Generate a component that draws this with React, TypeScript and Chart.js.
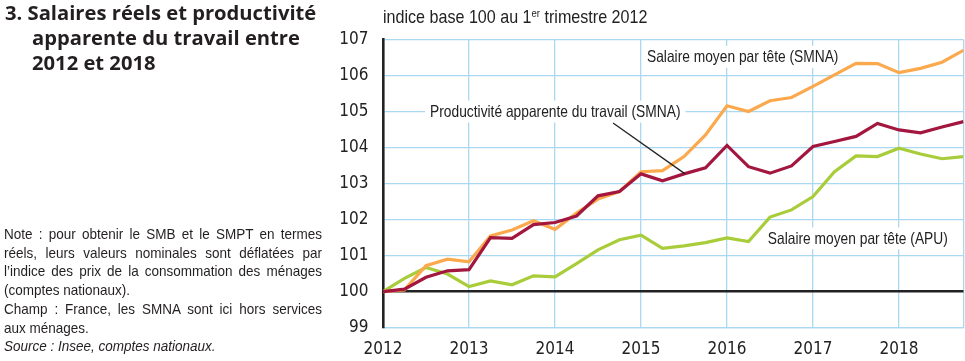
import React, { useEffect, useRef } from "react";
import { Chart, registerables } from "chart.js";

Chart.register(...registerables);

// Quarters from 2012 Q1 to 2018 Q4
const trimestres = [
  "2012T1", "2012T2", "2012T3", "2012T4",
  "2013T1", "2013T2", "2013T3", "2013T4",
  "2014T1", "2014T2", "2014T3", "2014T4",
  "2015T1", "2015T2", "2015T3", "2015T4",
  "2016T1", "2016T2", "2016T3", "2016T4",
  "2017T1", "2017T2", "2017T3", "2017T4",
  "2018T1", "2018T2", "2018T3", "2018T4",
];

const salaireSMNA = [
  100.0, 100.05, 100.72, 100.9, 100.83, 101.55, 101.71, 101.97,
  101.73, 102.18, 102.57, 102.78, 103.33, 103.36, 103.75, 104.35,
  105.16, 105.0, 105.3, 105.39, 105.7, 106.02, 106.34, 106.33,
  106.08, 106.2, 106.37, 106.7,
];

const productivite = [
  100.0, 100.07, 100.4, 100.58, 100.61, 101.5, 101.48, 101.86,
  101.92, 102.1, 102.66, 102.78, 103.27, 103.08, 103.27, 103.44,
  104.06, 103.47, 103.29, 103.49, 104.03, 104.17, 104.31, 104.67,
  104.49, 104.41, 104.57, 104.72,
];

const salaireAPU = [
  100.0, 100.37, 100.67, 100.49, 100.14, 100.3, 100.19, 100.44,
  100.41, 100.78, 101.16, 101.44, 101.57, 101.2, 101.27, 101.36,
  101.49, 101.39, 102.07, 102.27, 102.64, 103.33, 103.77, 103.75,
  103.98, 103.82, 103.69, 103.75,
];

const annees = [2012, 2013, 2014, 2015, 2016, 2017, 2018];
const yTicks = [99, 100, 101, 102, 103, 104, 105, 106, 107];

const CONDENSED = '"DejaVu Sans Condensed", "Liberation Sans", sans-serif';
const SANS = '"Liberation Sans", Arial, sans-serif';
const ORANGE = "#FBA94C";
const BORDEAUX = "#A3173F";
const VERT = "#A9CD3A";
const GRILLE = "#AAD8F0";
const NOIR = "#222222";
const SERRE = 0.835; // horizontal squeeze giving a condensed look to Liberation Sans

// Text labels placed in data units (quarter index, index value)
const etiquettes = [
  { text: "Salaire moyen par tête (SMNA)", x: 12.28, y: 106.52 },
  { text: "Productivité apparente du travail (SMNA)", x: 2.19, y: 105.0 },
  { text: "Salaire moyen par tête (APU)", x: 17.9, y: 101.48 },
];
const traitRenvoi = { x1: 10.7, y1: 104.68, x2: 14.05, y2: 103.27 };

const serie = (vals: number[]) => vals.map((v, i) => ({ x: i, y: v }));

const labelsPlugin = {
  id: "etiquettes",
  beforeDatasetsDraw(chart: any) {
    const { ctx, scales } = chart;
    ctx.save();
    ctx.font = `16.5px ${SANS}`;
    ctx.textBaseline = "middle";
    ctx.textAlign = "left";
    for (const e of etiquettes) {
      const px = scales.x.getPixelForValue(e.x);
      const py = scales.y.getPixelForValue(e.y);
      const w = ctx.measureText(e.text).width * SERRE;
      ctx.fillStyle = "#ffffff";
      ctx.fillRect(px - 5, py - 11, w + 10, 22);
      ctx.save();
      ctx.translate(px, py + 1);
      ctx.scale(SERRE, 1);
      ctx.fillStyle = NOIR;
      ctx.fillText(e.text, 0, 0);
      ctx.restore();
    }
    ctx.restore();
  },
  afterDatasetsDraw(chart: any) {
    const { ctx, scales } = chart;
    ctx.save();
    ctx.strokeStyle = NOIR;
    ctx.lineWidth = 1.3;
    ctx.beginPath();
    ctx.moveTo(scales.x.getPixelForValue(traitRenvoi.x1), scales.y.getPixelForValue(traitRenvoi.y1));
    ctx.lineTo(scales.x.getPixelForValue(traitRenvoi.x2), scales.y.getPixelForValue(traitRenvoi.y2));
    ctx.stroke();
    ctx.restore();
  },
};

function Graphique() {
  const ref = useRef<HTMLCanvasElement | null>(null);
  useEffect(() => {
    if (!ref.current) return;
    const last = trimestres.length - 1;
    const chart = new Chart(ref.current, {
      type: "line",
      data: {
        datasets: [
          { label: "Productivité apparente du travail (SMNA)", data: serie(productivite), borderColor: BORDEAUX, order: 0 },
          { label: "Salaire moyen par tête (SMNA)", data: serie(salaireSMNA), borderColor: ORANGE, order: 1 },
          { label: "Salaire moyen par tête (APU)", data: serie(salaireAPU), borderColor: VERT, order: 2 },
        ].map((d) => ({ ...d, borderWidth: 3.2, pointRadius: 0, tension: 0, fill: false })),
      },
      options: {
        animation: false,
        responsive: false,
        maintainAspectRatio: false,
        events: [],
        layout: { padding: { left: 333, top: 39.5, right: 1.5, bottom: 0 } },
        plugins: { legend: { display: false }, tooltip: { enabled: false } },
        scales: {
          x: {
            type: "linear",
            min: 0,
            max: last,
            afterBuildTicks(scale: any) {
              const t = annees.map((a, k) => ({ value: k * 4 }));
              t.push({ value: last });
              scale.ticks = t;
            },
            afterFit(scale: any) {
              scale.height = 33.3;
              scale.paddingLeft = 0;
              scale.paddingRight = 0;
            },
            ticks: {
              autoSkip: false,
              maxRotation: 0,
              padding: 11.5,
              color: NOIR,
              font: { family: CONDENSED, size: 17 },
              callback: (v: any) => (v % 4 === 0 ? String(annees[v / 4]) : ""),
            },
            grid: { color: GRILLE, lineWidth: 1.3, drawTicks: false },
            border: { color: GRILLE, width: 1.3 },
          },
          y: {
            min: yTicks[0],
            max: yTicks[yTicks.length - 1],
            afterBuildTicks(scale: any) {
              scale.ticks = yTicks.map((v) => ({ value: v }));
            },
            afterFit(scale: any) {
              scale.width = 50;
              scale.paddingTop = 0;
              scale.paddingBottom = 0;
            },
            ticks: {
              padding: 14.5,
              color: NOIR,
              font: { family: CONDENSED, size: 17 },
            },
            grid: {
              drawTicks: false,
              color: (c: any) => (c.tick && c.tick.value === 100 ? NOIR : GRILLE),
              lineWidth: (c: any) => (c.tick && c.tick.value === 100 ? 2.6 : 1.3),
            },
            border: { color: NOIR, width: 2.6 },
          },
        },
      },
      plugins: [labelsPlugin],
    });
    return () => chart.destroy();
  }, []);
  return <canvas ref={ref} width={965} height={361} style={{ position: "absolute", left: 0, top: 0 }} />;
}

const titreStyle: React.CSSProperties = {
  position: "absolute",
  fontFamily: "'Open Sans', Lato, sans-serif",
  fontWeight: 700,
  fontSize: 20.2,
  lineHeight: "25px",
  color: "#231f20",
  whiteSpace: "nowrap",
};

const noteLignes: { t: React.ReactNode; j: boolean }[] = [
  { t: "Note : pour obtenir le SMB et le SMPT en termes", j: true },
  { t: "réels, leurs valeurs nominales sont déflatées par", j: true },
  { t: "l’indice des prix de la consommation des ménages", j: true },
  { t: "(comptes nationaux).", j: false },
  { t: "Champ : France, les SMNA sont ici hors services", j: true },
  { t: "aux ménages.", j: false },
  { t: <i>Source : Insee, comptes nationaux.</i>, j: false },
];

const NOTE_SERRE = 0.9;

export default function App() {
  return (
    <div
      style={{
        position: "absolute",
        left: 0,
        top: 0,
        width: 965,
        height: 361,
        overflow: "hidden",
        background: "#ffffff",
      }}
    >
      <Graphique />
      <div style={{ ...titreStyle, left: 5, top: 0 }}>3. Salaires réels et productivité</div>
      <div style={{ ...titreStyle, left: 32, top: 25 }}>apparente du travail entre</div>
      <div style={{ ...titreStyle, left: 32, top: 50 }}>2012 et 2018</div>
      <div
        style={{
          position: "absolute",
          left: 383,
          top: 5.5,
          fontFamily: SANS,
          fontSize: 18.5,
          lineHeight: "22px",
          color: NOIR,
          whiteSpace: "nowrap",
          transform: "scaleX(0.87)",
          transformOrigin: "0 0",
        }}
      >
        indice base 100 au 1<sup style={{ fontSize: 11, verticalAlign: "6px", lineHeight: 0 }}>er</sup> trimestre 2012
      </div>
      <div
        style={{
          position: "absolute",
          left: 4,
          top: 225,
          width: 318 / NOTE_SERRE,
          fontFamily: SANS,
          fontSize: 15,
          lineHeight: "18.7px",
          color: "#231f20",
          transform: `scaleX(${NOTE_SERRE})`,
          transformOrigin: "0 0",
        }}
      >
        {noteLignes.map((l, k) => (
          <div
            key={k}
            style={{
              textAlign: l.j ? "justify" : "left",
              textAlignLast: l.j ? "justify" : "left",
              whiteSpace: "nowrap",
            }}
          >
            {l.t}
          </div>
        ))}
      </div>
    </div>
  );
}
